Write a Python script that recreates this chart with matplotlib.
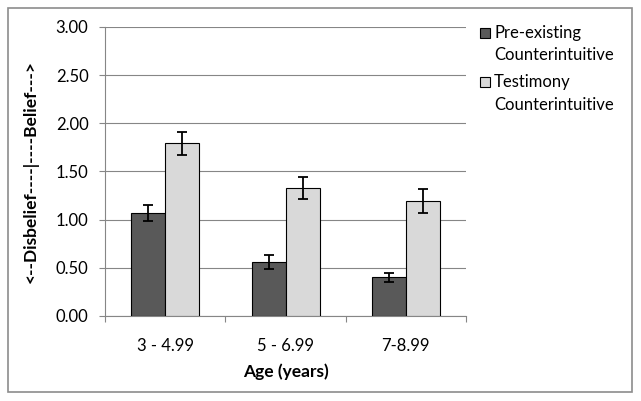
import numpy as np
import matplotlib.pyplot as plt
from matplotlib.patches import Rectangle

# values
ages = ['3 - 4.99', '5 - 6.99', '7-8.99']
series_names = ['Pre-existing\nCounterintuitive', 'Testimony\nCounterintuitive']
preexisting = [1.07, 0.56, 0.40]
preexisting_err = [0.085, 0.075, 0.05]
testimony = [1.79, 1.33, 1.19]
testimony_err = [0.115, 0.115, 0.125]
yticks = [0.0, 0.5, 1.0, 1.5, 2.0, 2.5, 3.0]
colors = ['#595959', '#d9d9d9']

plt.rcParams['font.family'] = ['Lato', 'DejaVu Sans']

fig = plt.figure(figsize=(6.41, 4.01), dpi=100)
ax = fig.add_axes([0.164, 0.212, 0.563, 0.721])

x = np.arange(len(ages))
w = 0.283
err_kw = dict(ecolor='black', elinewidth=1.3, capsize=3.5, capthick=1.3)
ax.bar(x - w / 2, preexisting, w, yerr=preexisting_err, color=colors[0],
       edgecolor='black', linewidth=0.8, error_kw=err_kw, zorder=3)
ax.bar(x + w / 2, testimony, w, yerr=testimony_err, color=colors[1],
       edgecolor='black', linewidth=0.8, error_kw=err_kw, zorder=3)

ax.set_xlim(-0.5, len(ages) - 0.5)
ax.set_ylim(0, 3)
ax.set_yticks(yticks)
ax.set_yticklabels(['%.2f' % v for v in yticks], fontsize=12)
ax.set_xticks(x)
ax.set_xticklabels(ages, fontsize=12)
ax.tick_params(axis='x', which='major', length=0, pad=16)
ax.set_xticks(np.arange(len(ages) + 1) - 0.5, minor=True)
ax.tick_params(axis='x', which='minor', length=4, color='#868686', width=0.8)
ax.tick_params(axis='y', length=4, color='#868686', width=0.8, pad=8)
ax.grid(axis='y', color='#868686', linewidth=0.8, zorder=0)

for s in ['top', 'right']:
    ax.spines[s].set_visible(False)
for s in ['left', 'bottom']:
    ax.spines[s].set_color('#868686')
    ax.spines[s].set_linewidth(0.8)

ax.set_xlabel('Age (years)', fontsize=12.5, fontweight='bold', labelpad=7)
ax.set_ylabel('<--Disbelief----|----Belief--->', fontsize=12.5,
              fontweight='bold', labelpad=12)

# legend drawn by hand so the swatch sits on the first text line
for i, name in enumerate(series_names):
    ytop = 1 - 33 / 401 - i * 49 / 401
    fig.patches.append(Rectangle((480 / 641, ytop - 5 / 401), 10 / 641, 10 / 401,
                                 transform=fig.transFigure, facecolor=colors[i],
                                 edgecolor='black', linewidth=0.8))
    fig.text(494 / 641, ytop + 8 / 401, name, fontsize=12, va='top',
             ha='left', linespacing=1.5)

fig.patches.append(Rectangle((0.012, 0.022), 0.974, 0.958,
                             transform=fig.transFigure, fill=False,
                             edgecolor='#8c8c8c', linewidth=1.2))

fig.savefig('out.png', dpi=100)
